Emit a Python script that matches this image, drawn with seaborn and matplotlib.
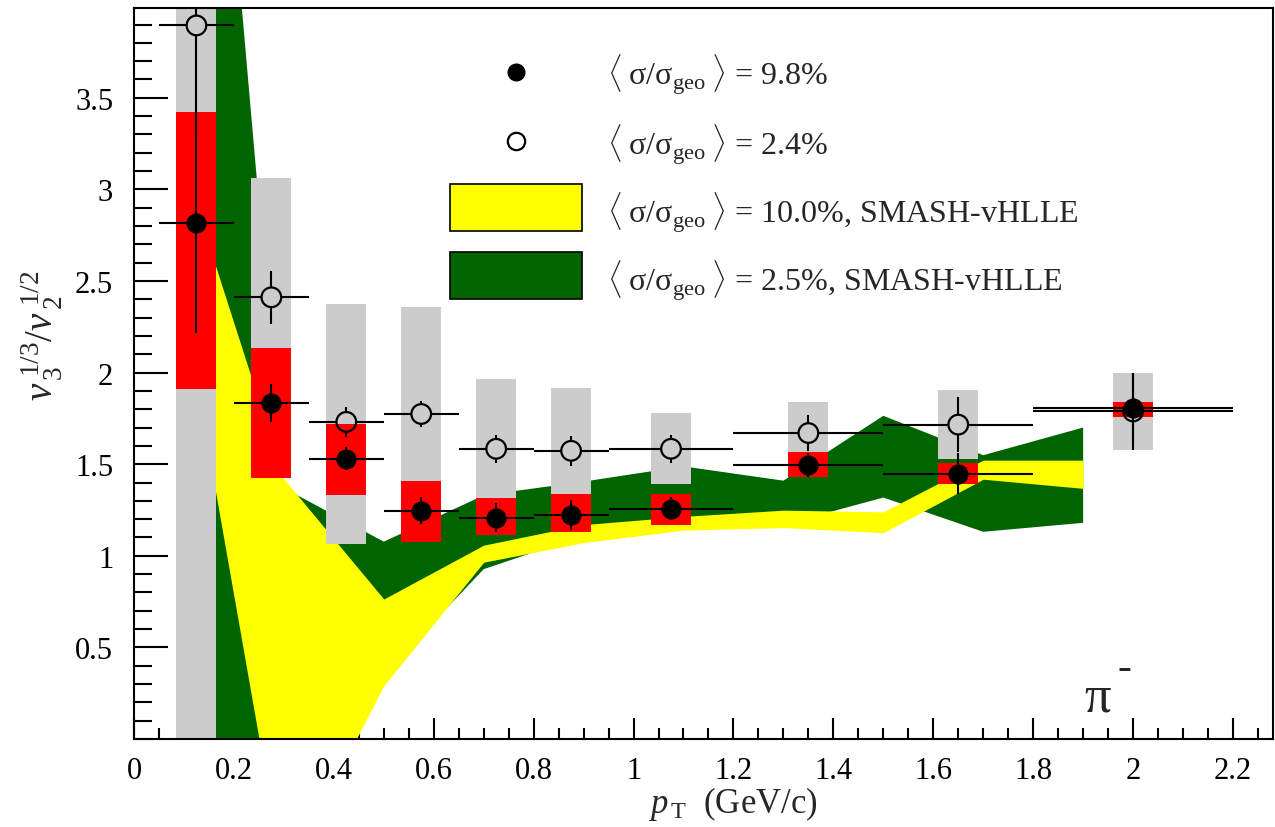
import numpy as np
import pandas as pd
import matplotlib
matplotlib.use("Agg")
import matplotlib.pyplot as plt
import seaborn as sns
from matplotlib.patches import Rectangle
from matplotlib.ticker import MultipleLocator, FormatStrFormatter

# ---- pT binning (GeV/c) ----
pt_center = [0.125, 0.275, 0.425, 0.575, 0.725, 0.875, 1.075, 1.35, 1.65, 2.0]
pt_low = [0.05, 0.2, 0.35, 0.5, 0.65, 0.8, 0.95, 1.2, 1.5, 1.8]
pt_high = [0.2, 0.35, 0.5, 0.65, 0.8, 0.95, 1.2, 1.5, 1.8, 2.2]

# ---- <sigma/sigma_geo> = 9.8 % ----
ratio_98 = [2.815, 1.833, 1.531, 1.246, 1.207, 1.222, 1.258, 1.496, 1.447, 1.806]
stat_98 = [0.60, 0.104, 0.063, 0.073, 0.079, 0.080, 0.061, 0.065, 0.112, 0.19]
sys_lo_98 = [1.91, 1.424, 1.331, 1.073, 1.115, 1.128, 1.169, 1.431, 1.391, 1.760]
sys_hi_98 = [3.42, 2.133, 1.718, 1.408, 1.315, 1.337, 1.337, 1.564, 1.505, 1.842]

# ---- <sigma/sigma_geo> = 2.4 % ----
ratio_24 = [3.895, 2.411, 1.731, 1.774, 1.584, 1.573, 1.584, 1.670, 1.716, 1.788]
stat_24 = [0.60, 0.145, 0.080, 0.071, 0.077, 0.082, 0.077, 0.100, 0.149, 0.21]
sys_lo_24 = [-0.2, 1.76, 1.064, 1.19, 1.204, 1.231, 1.393, 1.498, 1.529, 1.579]
sys_hi_24 = [4.3, 3.06, 2.373, 2.359, 1.964, 1.915, 1.778, 1.842, 1.903, 1.997]

# ---- SMASH-vHLLE bands ----
model_pt = [0.1, 0.3, 0.5, 0.7, 0.9, 1.1, 1.3, 1.5, 1.7, 1.9]
smash10_lo = [2.33, -0.77, 0.291, 0.965, 1.072, 1.14, 1.154, 1.126, 1.418, 1.368]
smash10_hi = [3.12, 1.42, 0.764, 1.058, 1.17, 1.215, 1.249, 1.24, 1.522, 1.522]
smash25_lo = [-1.0, -0.6, 0.35, 0.927, 1.111, 1.15, 1.17, 1.318, 1.131, 1.18]
smash25_hi = [7.6, 1.37, 1.077, 1.33, 1.405, 1.488, 1.41, 1.764, 1.549, 1.70]

x_ticks = [0, 0.2, 0.4, 0.6, 0.8, 1.0, 1.2, 1.4, 1.6, 1.8, 2.0, 2.2]
y_ticks = [0.5, 1.0, 1.5, 2.0, 2.5, 3.0, 3.5]

legend_labels = [
    r"$\langle\;\mathrm{\sigma/\sigma_{geo}}\;\rangle$ = 9.8%",
    r"$\langle\;\mathrm{\sigma/\sigma_{geo}}\;\rangle$ = 2.4%",
    r"$\langle\;\mathrm{\sigma/\sigma_{geo}}\;\rangle$ = 10.0%, SMASH-vHLLE",
    r"$\langle\;\mathrm{\sigma/\sigma_{geo}}\;\rangle$ = 2.5%, SMASH-vHLLE",
]

sns.set_theme(style="ticks")
plt.rcParams["font.family"] = ["Liberation Serif", "DejaVu Serif"]
plt.rcParams["mathtext.fontset"] = "custom"
plt.rcParams["mathtext.rm"] = "Liberation Serif"
plt.rcParams["mathtext.it"] = "Liberation Serif:italic"
plt.rcParams["mathtext.bf"] = "Liberation Serif:bold"

YELLOW = "#ffff00"
GREEN = "#006400"
RED = "#ff0000"
GRAY = "#cccccc"

fig = plt.figure(figsize=(12.75, 8.28), dpi=100)
ax = fig.add_axes([0.1051, 0.1063, 0.8933, 0.8828])
ax.set_xlim(0, 2.28)
ax.set_ylim(0, 3.99)

# model bands (yellow drawn over green)
ax.fill_between(model_pt, smash25_lo, smash25_hi, color=GREEN, lw=0, zorder=1)
ax.fill_between(model_pt, smash10_lo, smash10_hi, color=YELLOW, lw=0, zorder=1.5)

pc = np.array(pt_center)
box_w = 0.08

# systematic boxes
ax.bar(pc, np.array(sys_hi_24) - np.array(sys_lo_24), bottom=sys_lo_24,
       width=box_w, color=GRAY, lw=0, zorder=2)
ax.bar(pc, np.array(sys_hi_98) - np.array(sys_lo_98), bottom=sys_lo_98,
       width=box_w, color=RED, lw=0, zorder=3)

# marker radius in data units (error bars stop at the marker edge)
fig.canvas.draw()
p0 = ax.transData.transform((0, 0))
p1 = ax.transData.transform((1, 1))
r_px = 9.5
rx = r_px / (p1[0] - p0[0])
ry = r_px / (p1[1] - p0[1])


def draw_errors(y, err, z):
    y = np.array(y)
    err = np.array(err)
    kw = dict(color="black", lw=1.5, zorder=z)
    ax.hlines(y, pt_low, pc - rx, **kw)
    ax.hlines(y, pc + rx, pt_high, **kw)
    ax.vlines(pc, y - err, y - ry, **kw)
    ax.vlines(pc, y + ry, y + err, **kw)


draw_errors(ratio_24, stat_24, 4)
draw_errors(ratio_98, stat_98, 5)

df24 = pd.DataFrame({"pt": pt_center, "ratio": ratio_24})
df98 = pd.DataFrame({"pt": pt_center, "ratio": ratio_98})
sns.scatterplot(data=df24, x="pt", y="ratio", ax=ax, marker="o", s=200,
                facecolor="none", edgecolor="black", linewidth=1.6,
                zorder=4.5, legend=False)
sns.scatterplot(data=df98, x="pt", y="ratio", ax=ax, marker="o", s=195,
                color="black", edgecolor="black", linewidth=0.5,
                zorder=5.5, legend=False)

# axes styling
for sp in ax.spines.values():
    sp.set_linewidth(1.5)
    sp.set_color("black")
ax.set_xticks(x_ticks)
ax.set_yticks(y_ticks)
ax.xaxis.set_minor_locator(MultipleLocator(0.05))
ax.yaxis.set_minor_locator(MultipleLocator(0.1))
ax.xaxis.set_major_formatter(FormatStrFormatter("%g"))
ax.yaxis.set_major_formatter(FormatStrFormatter("%g"))
ax.tick_params(axis="both", which="both", direction="in", top=False,
               right=False, colors="black", labelsize=22, width=1.5)
ax.tick_params(axis="y", which="major", length=24.5, pad=15)
ax.tick_params(axis="y", which="minor", length=12.7)
ax.tick_params(axis="x", which="major", length=15, pad=12)
ax.tick_params(axis="x", which="minor", length=8)
ax.set_xlabel("")
ax.set_ylabel("")

fig.text(0.575, 0.018, r"$p_{\,\mathrm{T}}$  (GeV/c)", ha="center",
         va="baseline", fontsize=25)
fig.text(0.033, 0.595, r"$v_{\,3}^{\;1/3}/v_{\,2}^{\;1/2}$", ha="center",
         va="center", rotation=90, fontsize=28)

# particle species tag
ax.text(1.902, 0.153, "\u03c0", fontsize=38, ha="left", va="baseline")
ax.annotate("-", xy=(1.902, 0.153), xytext=(24, 24), textcoords="offset points",
            fontsize=30, ha="left", va="baseline")

# legend
tr = ax.transAxes
ax.plot([0.3354], [0.9124], marker="o", ms=12, color="black", transform=tr,
        clip_on=False, zorder=6)
ax.plot([0.3354], [0.818], marker="o", ms=12.5, mfc="white", mec="black",
        mew=1.6, transform=tr, clip_on=False, zorder=6)
ax.add_patch(Rectangle((0.2774, 0.695), 0.1159, 0.064, transform=tr,
                       facecolor=YELLOW, edgecolor="black", lw=1.2, zorder=6))
ax.add_patch(Rectangle((0.2774, 0.602), 0.1159, 0.064, transform=tr,
                       facecolor=GREEN, edgecolor="black", lw=1.2, zorder=6))
for lab, yb in zip(legend_labels, [0.896, 0.800, 0.707, 0.613]):
    ax.text(0.4153, yb, lab, transform=tr, fontsize=23, ha="left",
            va="baseline", zorder=6)

fig.savefig("out.png", dpi=100)
